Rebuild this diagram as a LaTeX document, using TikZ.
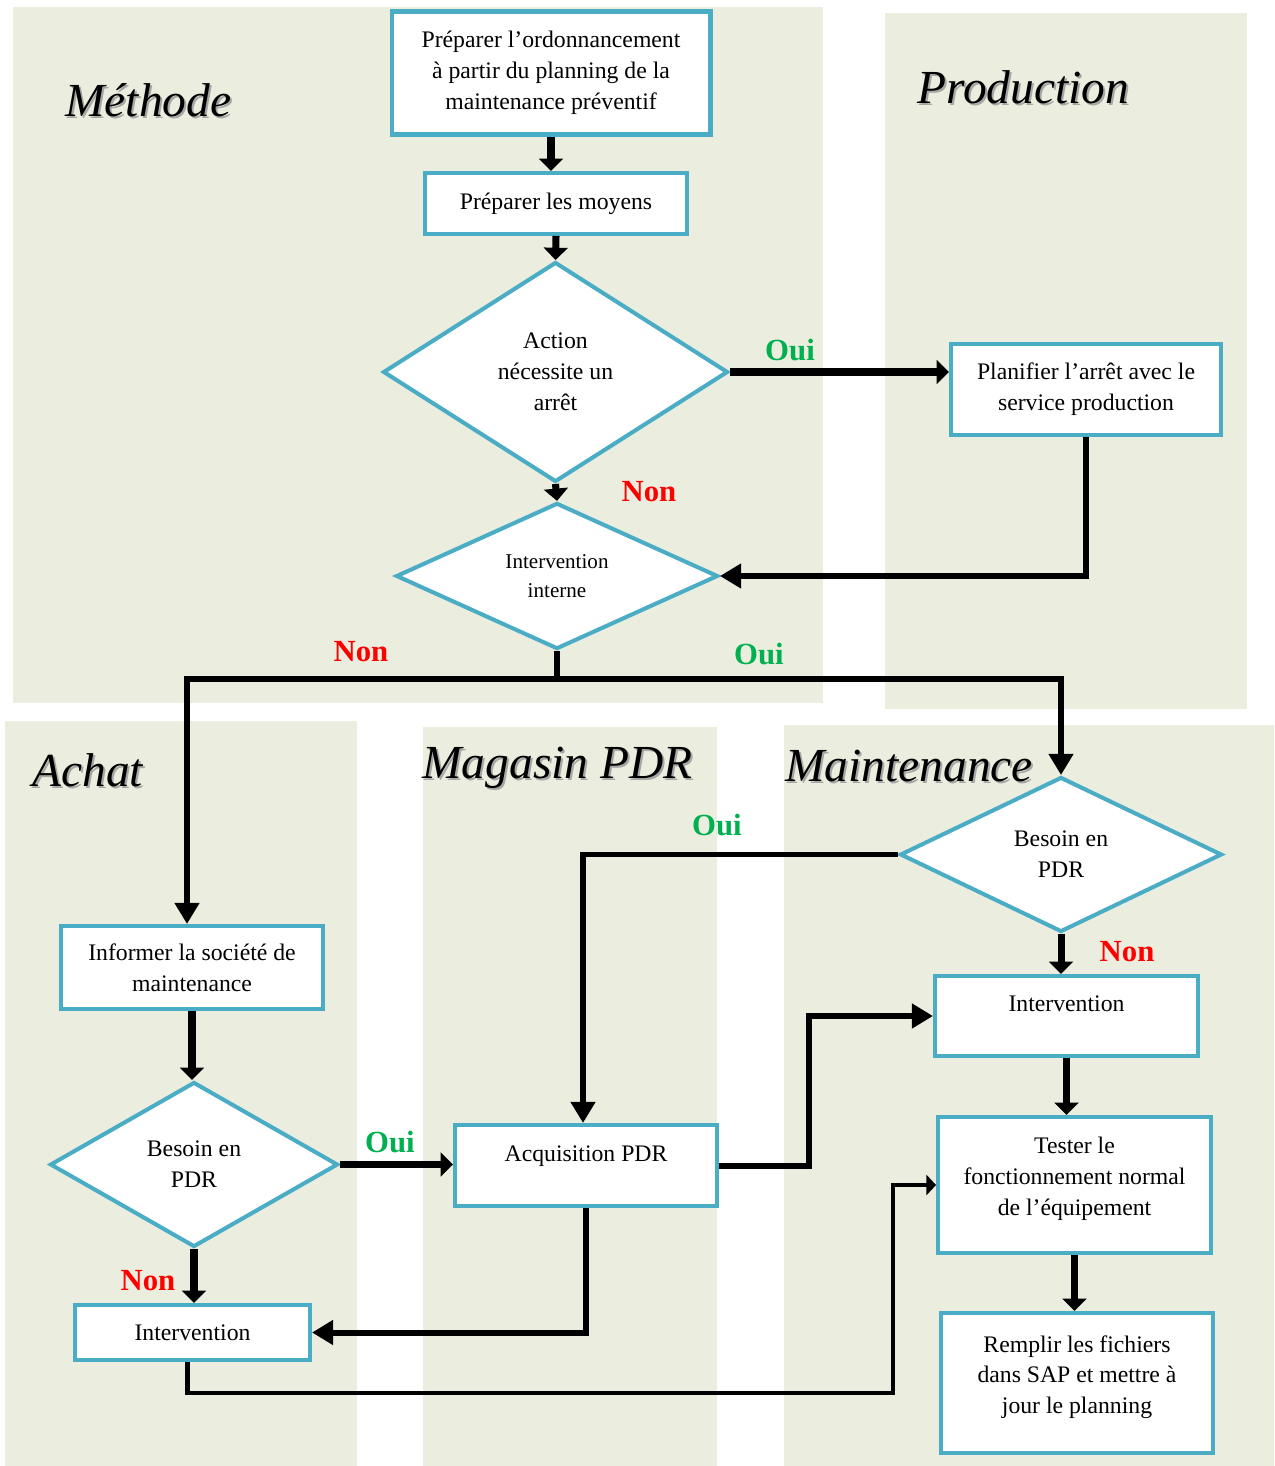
\documentclass[tikz,border=0pt]{standalone}
\usepackage{fontspec}
\setmainfont{Liberation Serif}
\usepackage{tikz}
\usetikzlibrary{arrows.meta, positioning, calc, shapes.geometric}
\usepackage{xcolor}

\definecolor{lanebg}{HTML}{EBEEDE}
\definecolor{boxblue}{HTML}{4BACC6}
\definecolor{ouigreen}{HTML}{00B050}
\definecolor{nonred}{HTML}{FF0000}

\newcommand{\lanetitle}[3]{%
  \node[title, text=black!35, anchor=base west] (#1 shadow) at ($(#2)+(2,2)$) {#3};
  \node[title, anchor=base west] (#1) at (#2) {#3};}

\begin{document}
\begin{tikzpicture}[
        x=0.02cm, y=-0.02cm,
        every node/.style={font=\fontsize{13.5}{17.6}\selectfont},
        box/.style={draw=boxblue, line width=2.3pt, fill=white, align=center, inner sep=2pt},
        choice/.style={diamond, draw=boxblue, line width=2.3pt, fill=white, align=center, inner sep=0pt},
        arrow/.style={-{Triangle[length=7pt,width=13.5pt]}, line width=4pt},
        bigarrow/.style={-{Triangle[length=12pt,width=13.5pt]}, line width=3.4pt},
        thinarrow/.style={-{Triangle[length=5.5pt,width=11.5pt]}, line width=2.3pt},
        oui/.style={text=ouigreen, font=\fontsize{17.5}{20}\selectfont\bfseries},
        non/.style={text=nonred, font=\fontsize{17.5}{20}\selectfont\bfseries},
        title/.style={font=\fontsize{27}{30}\selectfont\itshape, inner sep=0pt}
    ]
    \useasboundingbox (0,0) rectangle (1274,1466);
    % lanes
    \fill[lanebg] (13,7) rectangle (823,703);
    \fill[lanebg] (885,13) rectangle (1247,709);
    \fill[lanebg] (5,721) rectangle (357,1466);
    \fill[lanebg] (423,727) rectangle (717,1466);
    \fill[lanebg] (784,725) rectangle (1274,1466);
    \lanetitle{methode}{65,117}{Méthode}
    \lanetitle{production}{917,104}{Production}
    \lanetitle{achat}{32,786}{Achat}
    \lanetitle{magasin}{422,778}{Magasin PDR}
    \lanetitle{maintenance}{785,781}{Maintenance}
    % steps
    \node[box, minimum width=6.38cm, minimum height=2.46cm] (prep) at (551,73) {Préparer l’ordonnancement\\à partir du planning de la\\maintenance préventif};
    \node[box, minimum width=5.24cm, minimum height=1.22cm] (moyens) at (556,203.5) {Préparer les moyens};
    \node[choice, minimum width=6.9cm, minimum height=4.4cm] (arret) at (555.5,372) {Action\\nécessite un\\arrêt};
    \node[box, minimum width=5.4cm, minimum height=1.82cm] (planif) at (1086,389.5) {Planifier l’arrêt avec le\\service production};
    \node[choice, minimum width=6.44cm, minimum height=2.84cm, font=\fontsize{12}{16.5}\selectfont] (interne) at (557,576) {Intervention\\interne};
    \node[choice, minimum width=6.44cm, minimum height=3.1cm] (besoinM) at (1061,854.5) {Besoin en\\PDR};
    \node[box, minimum width=5.24cm, minimum height=1.66cm] (informer) at (192,967.5) {Informer la société de\\maintenance};
    \node[choice, minimum width=5.76cm, minimum height=3.3cm] (besoinA) at (194,1164.5) {Besoin en\\PDR};
    \node[box, minimum width=5.24cm, minimum height=1.62cm] (acquis) at (586,1165.5) {Acquisition PDR\\[-4pt]~};
    \node[box, minimum width=4.7cm, minimum height=1.1cm] (interA) at (192.5,1332.5) {Intervention};
    \node[box, minimum width=5.26cm, minimum height=1.6cm] (interM) at (1066.5,1016) {Intervention\\[-4pt]~};
    \node[box, minimum width=5.46cm, minimum height=2.72cm] (tester) at (1074.5,1185) {Tester le\\fonctionnement normal\\de l’équipement\\[-8pt]~};
    \node[box, minimum width=5.44cm, minimum height=2.8cm] (remplir) at (1077,1383) {Remplir les fichiers\\dans SAP et mettre à\\jour le planning\\[-8pt]~};
    % connectors
    \draw[arrow] (prep.south) -- (prep.south |- moyens.north);
    \draw[arrow] (moyens.south) -- (arret.north);
    \draw[arrow] (arret.east) -- (arret.east -| planif.west);
    \draw[arrow] (arret.south) -- (interne.north);
    \draw[bigarrow] (planif.south) |- (interne.east);
    \coordinate (split) at ($(interne.south)+(0,28)$);
    \draw[bigarrow] (interne.south) -- (split) -| ([xshift=-0.1cm]informer.north);
    \draw[bigarrow] (split) -| (besoinM.north);
    \draw[bigarrow] (besoinM.west) -| ([xshift=-0.06cm]acquis.north);
    \draw[arrow] (besoinM.south) -- (besoinM.south |- interM.north);
    \draw[arrow] (informer.south) -- (informer.south |- besoinA.north);
    \draw[arrow] (besoinA.east) -- (besoinA.east -| acquis.west);
    \draw[arrow] (besoinA.south) -- (besoinA.south |- interA.north);
    \draw[bigarrow] (acquis.south) |- (interA.east);
    \draw[bigarrow] (acquis.east) -- ++(90,0) |- (interM.west);
    \draw[arrow] (interM.south) -- (interM.south |- tester.north);
    \coordinate (retour) at (893,1393);
    \draw[thinarrow] ([xshift=-0.1cm]interA.south) |- (retour) |- (tester.west);
    \draw[arrow] (tester.south) -- (tester.south |- remplir.north);
    % answers
    \node[oui] (oui1) at (790,350) {Oui};
    \node[non] (non1) at (649,492) {Non};
    \node[non] (non2) at (361,652) {Non};
    \node[oui] (oui2) at (759,654) {Oui};
    \node[oui] (oui3) at (717,825) {Oui};
    \node[non] (non3) at (1127,952) {Non};
    \node[oui] (oui4) at (390,1142) {Oui};
    \node[non] (non4) at (148,1281) {Non};
\end{tikzpicture}
\end{document}
